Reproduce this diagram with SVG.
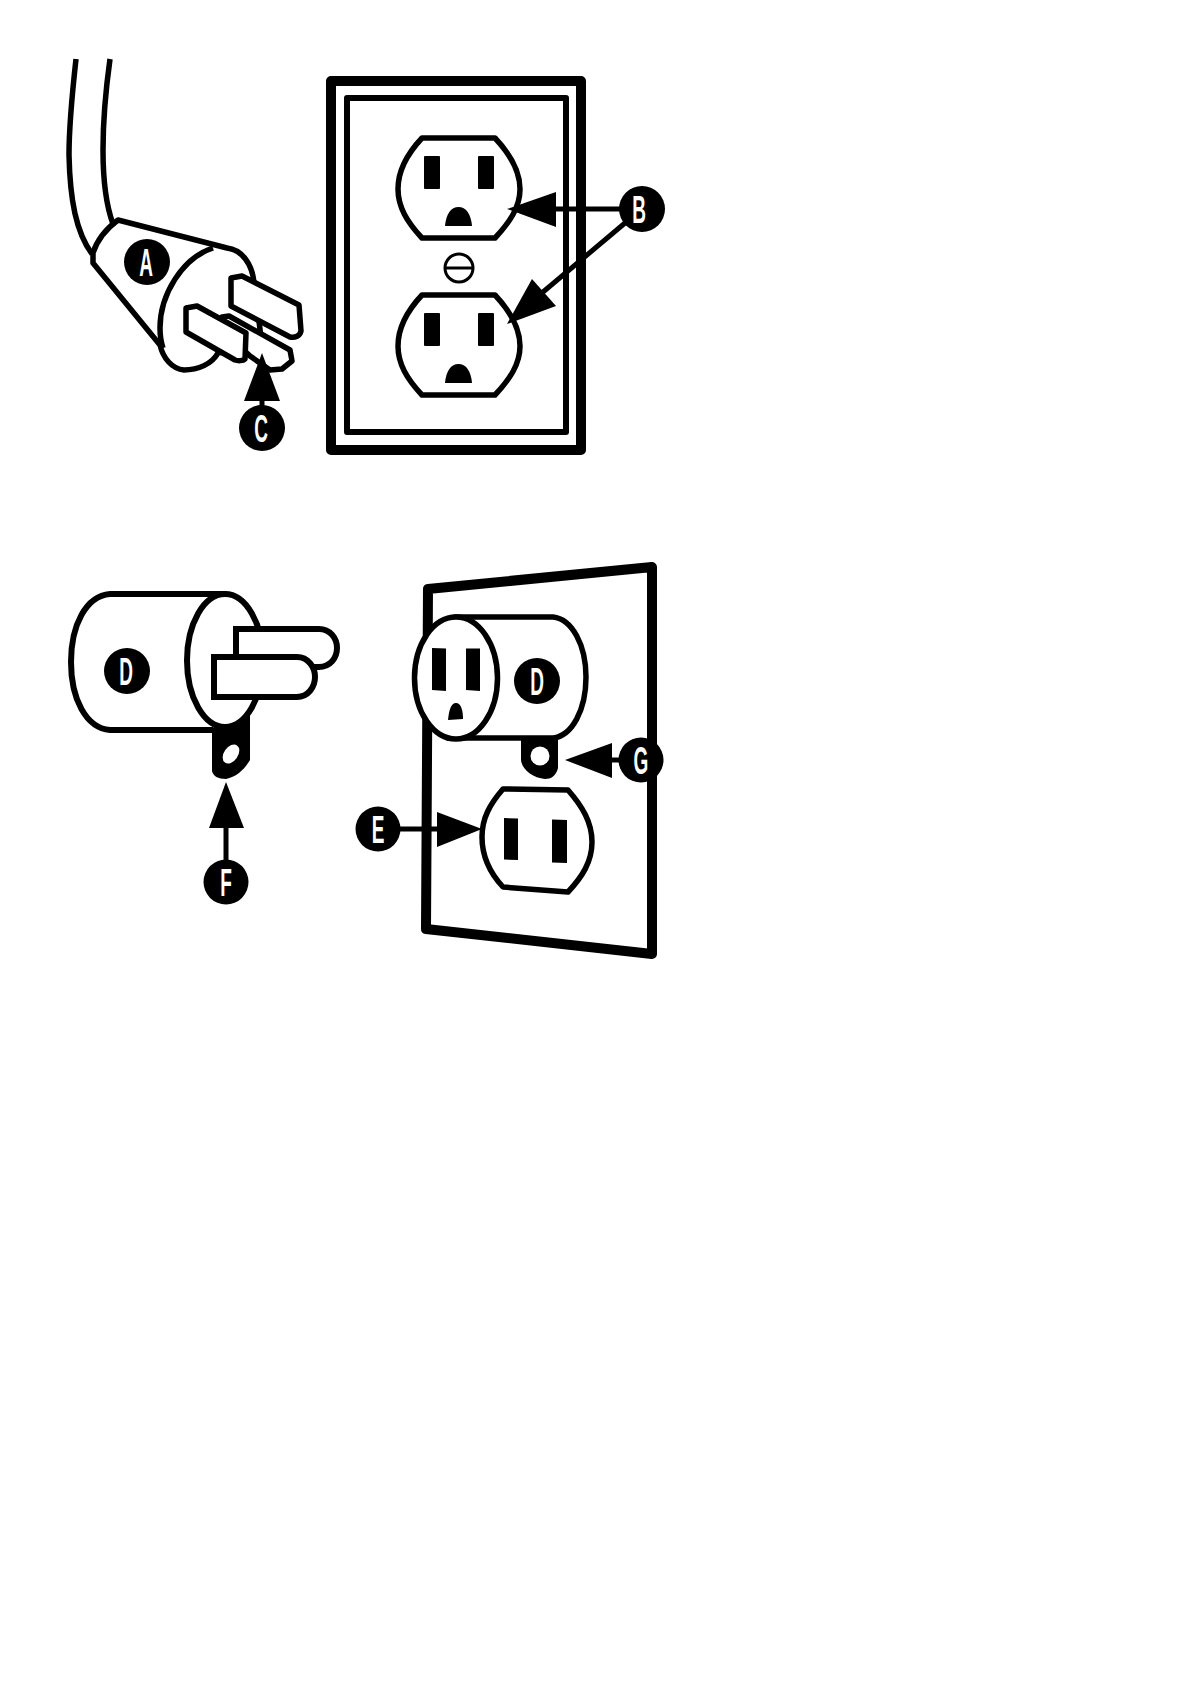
<svg xmlns="http://www.w3.org/2000/svg" width="1190" height="1684" viewBox="0 0 1190 1684">
<style>
.o{fill:#fff;stroke:#000;stroke-width:5.500;stroke-linejoin:round}
.n{fill:none;stroke:#000;stroke-width:5.500;stroke-linejoin:round}
.k{fill:#000;stroke:none}
.b{fill:#000}
.c{stroke:#000;stroke-width:5;fill:none}
.t{font-family:"Liberation Sans",Arial,sans-serif;font-weight:700;font-size:38px;fill:#fff;text-anchor:middle}
</style>
<rect width="1190" height="1684" fill="#fff"/>
<g id="plug-a">
<path class="n" d="M76 59C72 95 69 125 69 155C70 200 76 232 92 254"/>
<path class="n" d="M110 59C105 95 103 125 103 150C103 180 106 205 113 224"/>
<path class="o" d="M118 220L227 248C243 250 252 265 254 282L262 345L218 353C212 364 198 370 184 370C172 369 163 358 160 345L93 263V253C97 240 106 229 118 220Z"/>
<path class="n" d="M213 248C182 258 160 295 160 328C160 336 161 342 163 348"/>
<path class="o" d="M222 317L229 316L290 350L292 361L282 369L270 370L250 356L222 330Z"/>
<path class="o" d="M231 278L242 276L299 305L301 331C300 336 295 338 290 337L231 306Z"/>
<path class="o" d="M186 308L197 306L246 333L245 359C243 361 238 361 235 360L186 332Z"/>
</g>
<g id="outlet-b">
<rect x="331" y="81" width="250" height="369" fill="#fff" stroke="#000" stroke-width="10" stroke-linejoin="round"/>
<rect x="347" y="98" width="219" height="334" fill="none" stroke="#000" stroke-width="6" stroke-linejoin="round"/>
<path id="socket-top" class="o" d="M422 138H495C510 154 520 170 520 189C520 207 510 222 495 238H422C407 222 398 207 398 189C398 170 407 154 422 138Z"/>
<rect class="k" x="424" y="156" width="16" height="33" rx="1"/>
<rect class="k" x="478" y="156" width="16" height="33" rx="1"/>
<path class="k" d="M445 226C446 214 451 207 458.500 207C466 207 471 214 472 226Z"/>
<circle cx="459" cy="268" r="14" fill="#fff" stroke="#000" stroke-width="3"/>
<path d="M445 268H473" stroke="#000" stroke-width="3"/>
<path id="socket-bottom" class="o" d="M422 295H495C510 311 520 327 520 346C520 364 510 379 495 395H422C407 379 398 364 398 346C398 327 407 311 422 295Z"/>
<rect class="k" x="424" y="313" width="16" height="33" rx="1"/>
<rect class="k" x="478" y="313" width="16" height="33" rx="1"/>
<path class="k" d="M445 383C446 371 451 364 458.500 364C466 364 471 371 472 383Z"/>
</g>
<g id="plug-d">
<path d="M227 594H110C86 596 71 625 71 662C71 699 86 728 110 730H213" fill="#fff" stroke="#000" stroke-width="6"/>
<path class="k" d="M212 728L250 712V760C244 770 236 777 226 779C218 779 213 776 212 771Z"/>
<ellipse cx="225" cy="660.500" rx="38" ry="66.500" fill="#fff" stroke="#000" stroke-width="6"/>
<ellipse cx="231" cy="754" rx="7" ry="10.500" transform="rotate(35 231 754)" fill="#fff"/>
<path d="M236 660V629H319C330 629 337 638 337 648C337 658 330 667 319 667H300" fill="#fff" stroke="#000" stroke-width="6"/>
<path d="M214 657H297C308 657 315 667 315 677C315 687 308 697 297 697H214Z" fill="#fff" stroke="#000" stroke-width="6"/>
</g>
<g id="wall">
<path d="M428 589L652 567V954L426 929Z" fill="#fff" stroke="#000" stroke-width="10" stroke-linejoin="round"/>
<path class="k" d="M521 735H558V768C556 776 551 779 545 779C533 778 522 770 521 760Z"/>
<circle cx="540" cy="756" r="9.500" fill="#fff"/>
<path class="o" d="M455 617H553C572 619 586 645 586 677C586 710 572 736 553 738H448Z"/>
<ellipse cx="456" cy="678" rx="41.500" ry="61" class="o"/>
<path class="k" d="M432 648L446 648.500V691L432 690Z"/>
<path class="k" d="M466 648.500H480V691L466 690Z"/>
<path class="k" d="M448 720C449 710 451 703 456 703C461 703 463 710 463 719Z"/>
<path class="o" d="M503 789L568 790C582 806 592 822 592 842C592 862 582 877 568 892L503 887C490 873 482 857 482 837C482 818 490 804 503 789Z"/>
<path class="k" d="M504 818L518 818.500V860L504 859.500Z"/>
<path class="k" d="M552 819.500L567 820V863L552 862.500Z"/>
</g>
<g id="connectors">
<path class="k" d="M262 353L280 401H244Z"/>
<path class="c" d="M262 401V410"/>
<path class="k" d="M507 209L556 192V227Z"/>
<path class="c" d="M556 209H622"/>
<path class="k" d="M507 324L532 279L556 306Z"/>
<path class="c" d="M625 223L543 292"/>
<path class="k" d="M226 782L244 828H209Z"/>
<path class="c" d="M226 828V864"/>
<path class="k" d="M565 760L612 743V778Z"/>
<path class="c" d="M612 760H624"/>
<path class="k" d="M482 829L437 812V847Z"/>
<path class="c" d="M396 829H437"/>
</g>
<g id="label-a"><circle class="b" cx="147" cy="262" r="23"/><text class="t" transform="translate(146 275.500) scale(.5 1)">A</text></g>
<g id="label-b"><circle class="b" cx="642" cy="209" r="23"/><text class="t" transform="translate(639 222.500) scale(.5 1)">B</text></g>
<g id="label-c"><circle class="b" cx="262" cy="428" r="23"/><text class="t" transform="translate(261 441.500) scale(.5 1)">C</text></g>
<g id="label-d1"><circle class="b" cx="127" cy="671" r="23"/><text class="t" transform="translate(126 684.500) scale(.5 1)">D</text></g>
<g id="label-d2"><circle class="b" cx="537" cy="681" r="23"/><text class="t" transform="translate(537 694.500) scale(.5 1)">D</text></g>
<g id="label-e"><circle class="b" cx="378" cy="829" r="22.500"/><text class="t" transform="translate(378 842.500) scale(.5 1)">E</text></g>
<g id="label-f"><circle class="b" cx="226" cy="882" r="22.500"/><text class="t" transform="translate(226 895.500) scale(.5 1)">F</text></g>
<g id="label-g"><circle class="b" cx="641" cy="760" r="22.500"/><text class="t" transform="translate(641 773.500) scale(.5 1)">G</text></g>
</svg>
